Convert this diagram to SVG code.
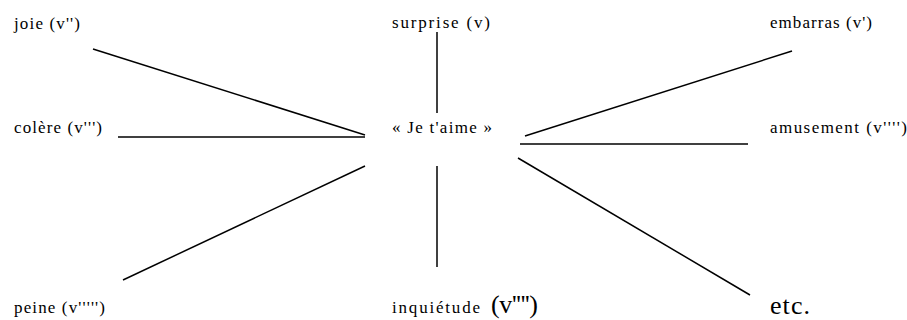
<svg xmlns="http://www.w3.org/2000/svg" width="907" height="320" viewBox="0 0 907 320">
<style>
.c line{stroke:#000;stroke-width:1.5}
.big{font-size:26px}
</style>
<rect width="907" height="320" fill="#fff"/>
<g class="c" id="connectors">
<line x1="93" y1="49" x2="365" y2="135"/>
<line x1="118" y1="137" x2="365" y2="137"/>
<line x1="437" y1="32" x2="437" y2="113"/>
<line x1="525" y1="136" x2="792" y2="51"/>
<line x1="520" y1="144" x2="748" y2="144"/>
<line x1="123" y1="280" x2="365" y2="166"/>
<line x1="437" y1="166" x2="437" y2="267"/>
<line x1="518" y1="158" x2="750" y2="295"/>
</g>
<g font-family="Liberation Serif, Times New Roman, serif" font-size="17" fill="#000">
<g id="center"><text x="392" y="133" textLength="100" lengthAdjust="spacing">« Je t'aime »</text></g>
<g id="joie"><text x="14" y="29" textLength="66" lengthAdjust="spacing">joie (v'')</text></g>
<g id="surprise"><text x="392" y="28" textLength="98" lengthAdjust="spacing">surprise (v)</text></g>
<g id="embarras"><text x="770" y="28" textLength="102" lengthAdjust="spacing">embarras (v')</text></g>
<g id="colere"><text x="14" y="133" textLength="88" lengthAdjust="spacing">colère (v''')</text></g>
<g id="amusement"><text x="770" y="133" textLength="137" lengthAdjust="spacing">amusement (v'''')</text></g>
<g id="peine"><text x="14" y="313" textLength="91" lengthAdjust="spacing">peine (v''''')</text></g>
<g id="inquietude"><text x="392" y="313"><tspan textLength="88" lengthAdjust="spacing">inquiétude</tspan> <tspan x="491" class="big" textLength="47" lengthAdjust="spacing">(v'''')</tspan></text></g>
<g id="etc"><text x="770" y="314" class="big" textLength="40" lengthAdjust="spacing">etc.</text></g>
</g>
</svg>
